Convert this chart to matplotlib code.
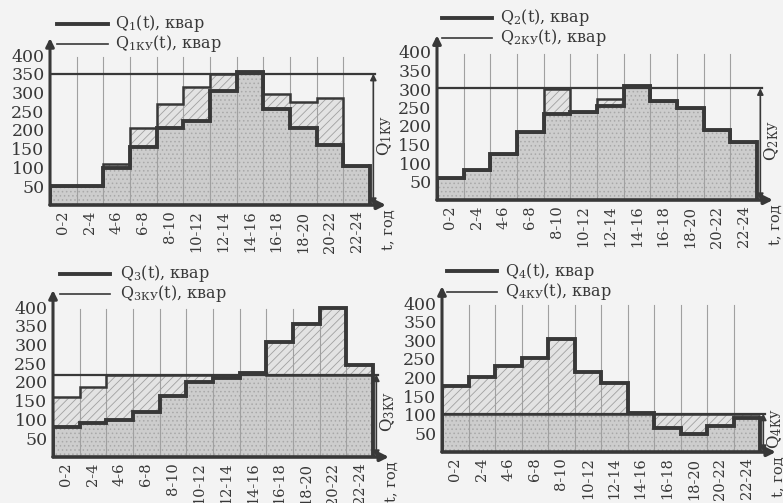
import numpy as np
import matplotlib
matplotlib.use("Agg")
import matplotlib.pyplot as plt

plt.rcParams['font.family'] = ['DejaVu Serif']
plt.rcParams['mathtext.fontset'] = 'custom'
plt.rcParams['mathtext.rm'] = 'DejaVu Serif'
plt.rcParams['mathtext.it'] = 'DejaVu Serif'
plt.rcParams['hatch.linewidth'] = 0.6

# ---- data ----
intervals = ["0-2", "2-4", "4-6", "6-8", "8-10", "10-12", "12-14",
             "14-16", "16-18", "18-20", "20-22", "22-24"]
hour_edges = [0, 2, 4, 6, 8, 10, 12, 14, 16, 18, 20, 22, 24]
y_ticks = [50, 100, 150, 200, 250, 300, 350, 400]

q1 = [50, 50, 100, 155, 205, 225, 305, 355, 255, 205, 160, 105]
q1_upper = [50, 50, 110, 205, 270, 315, 350, 355, 295, 275, 285, 105]
q1_ky = 350

q2 = [60, 80, 123, 183, 233, 237, 255, 308, 268, 248, 190, 158]
q2_upper = [60, 80, 123, 183, 300, 237, 273, 308, 268, 248, 190, 158]
q2_ky = 302

q3 = [80, 90, 100, 120, 162, 200, 212, 225, 308, 355, 398, 245]
q3_upper = [160, 188, 220, 220, 220, 220, 220, 225, 220, 220, 220, 220]
q3_ky = 220

q4 = [178, 202, 230, 253, 303, 215, 185, 105, 65, 47, 70, 91]
q4_upper = [103] * 12
q4_ky = 103

panels = [
    dict(q=q1, up=q1_upper, ky=q1_ky, idx="1", x0=50, xe=370, y0=205, y400=55,
         leg=(57, 108, 115, 24, 44)),
    dict(q=q2, up=q2_upper, ky=q2_ky, idx="2", x0=437, xe=757, y0=200, y400=52,
         leg=(442, 492, 500, 18, 38)),
    dict(q=q3, up=q3_upper, ky=q3_ky, idx="3", x0=53, xe=373, y0=457, y400=307,
         leg=(60, 110, 120, 274, 294)),
    dict(q=q4, up=q4_upper, ky=q4_ky, idx="4", x0=442, xe=760, y0=452, y400=303,
         leg=(447, 497, 505, 271, 292)),
]

W, H = 783, 503
fig = plt.figure(figsize=(W / 100, H / 100), dpi=100)
fig.patch.set_facecolor('#f3f3f3')

LC = '#383838'
edges = np.array(hour_edges)
XMAX, YMAX = 27.0, 460.0

def fx(px):
    return px / W

def fy(py):
    return 1 - py / H

for p in panels:
    sx = (p['xe'] - p['x0']) / 24.0
    sy = (p['y0'] - p['y400']) / 400.0
    ax = fig.add_axes([fx(p['x0']), fy(p['y0']), XMAX * sx / W, YMAX * sy / H])
    ax.set_xlim(0, XMAX)
    ax.set_ylim(0, YMAX)
    ax.patch.set_visible(False)
    for s in ax.spines.values():
        s.set_visible(False)

    q = np.array(p['q'], float)
    up = np.array(p['up'], float)
    lo = np.minimum(q, up)
    hi = np.maximum(q, up)

    # fills
    ax.stairs(lo, edges, baseline=0, fill=True, facecolor='#cdcdcd',
              edgecolor='#a8a8a8', hatch='....', linewidth=0, zorder=1)
    ax.stairs(hi, edges, baseline=lo, fill=True, facecolor='#e3e3e3',
              edgecolor='#a0a0a0', hatch='////', linewidth=0, zorder=1)

    # vertical grid lines
    for e in hour_edges[1:-1]:
        ax.plot([e, e], [0, 395], color='#a0a0a0', lw=0.8, zorder=2)

    # Q_KY horizontal line
    ax.plot([0, 24.4], [p['ky'], p['ky']], color=LC, lw=1.6, zorder=3)

    # step lines
    ax.stairs(up, edges, baseline=None, color=LC, lw=1.8, zorder=4)
    ax.stairs(q, edges, baseline=None, color=LC, lw=2.8, zorder=5)
    ax.plot([0, 0], [0, q[0]], color=LC, lw=2.8, zorder=5)
    ax.plot([24, 24], [0, q[-1]], color=LC, lw=2.8, zorder=5)

    # axes with arrows
    ax.annotate('', xy=(0, 445), xytext=(0, 0),
                arrowprops=dict(arrowstyle='-|>', color=LC, lw=2.2,
                                mutation_scale=12, shrinkA=0, shrinkB=0),
                annotation_clip=False, zorder=6)
    ax.annotate('', xy=(25.2, 0), xytext=(0, 0),
                arrowprops=dict(arrowstyle='-|>', color=LC, lw=2.6,
                                mutation_scale=12, shrinkA=0, shrinkB=0),
                annotation_clip=False, zorder=6)
    # Q_KY double arrow
    ax.annotate('', xy=(24.25, p['ky']), xytext=(24.25, 0),
                arrowprops=dict(arrowstyle='<|-|>', color=LC, lw=1.2,
                                mutation_scale=9, shrinkA=0, shrinkB=0),
                annotation_clip=False, zorder=6)

    ax.text(25.1, p['ky'] / 2 + 10, "Q$_{" + p['idx'] + r"\mathrm{КУ}}$",
            rotation=90, ha='center', va='center', fontsize=12, color=LC,
            clip_on=False)
    ax.text(25.4, -12, "t, год", rotation=90, ha='center', va='top',
            fontsize=10.5, color=LC, clip_on=False)

    ax.set_yticks(y_ticks)
    ax.set_yticklabels([str(v) for v in y_ticks], fontsize=12.5, color=LC)
    centers = (edges[:-1] + edges[1:]) / 2
    ax.set_xticks(centers)
    ax.set_xticklabels(intervals, rotation=90, fontsize=10.5, color=LC)
    ax.tick_params(length=0, pad=4)

    # legend
    lx0, lx1, tx, ly1, ly2 = p['leg']
    fig.add_artist(plt.Line2D([fx(lx0), fx(lx1)], [fy(ly1), fy(ly1)],
                              color=LC, lw=2.8))
    fig.add_artist(plt.Line2D([fx(lx0), fx(lx1)], [fy(ly2), fy(ly2)],
                              color=LC, lw=1.2))
    fig.text(fx(tx), fy(ly1), "Q$_{" + p['idx'] + "}$(t), квар",
             fontsize=11.5, va='center', ha='left', color=LC)
    fig.text(fx(tx), fy(ly2), "Q$_{" + p['idx'] + r"\mathrm{КУ}}$(t), квар",
             fontsize=11.5, va='center', ha='left', color=LC)

fig.savefig("out.png", dpi=100, facecolor=fig.get_facecolor())
